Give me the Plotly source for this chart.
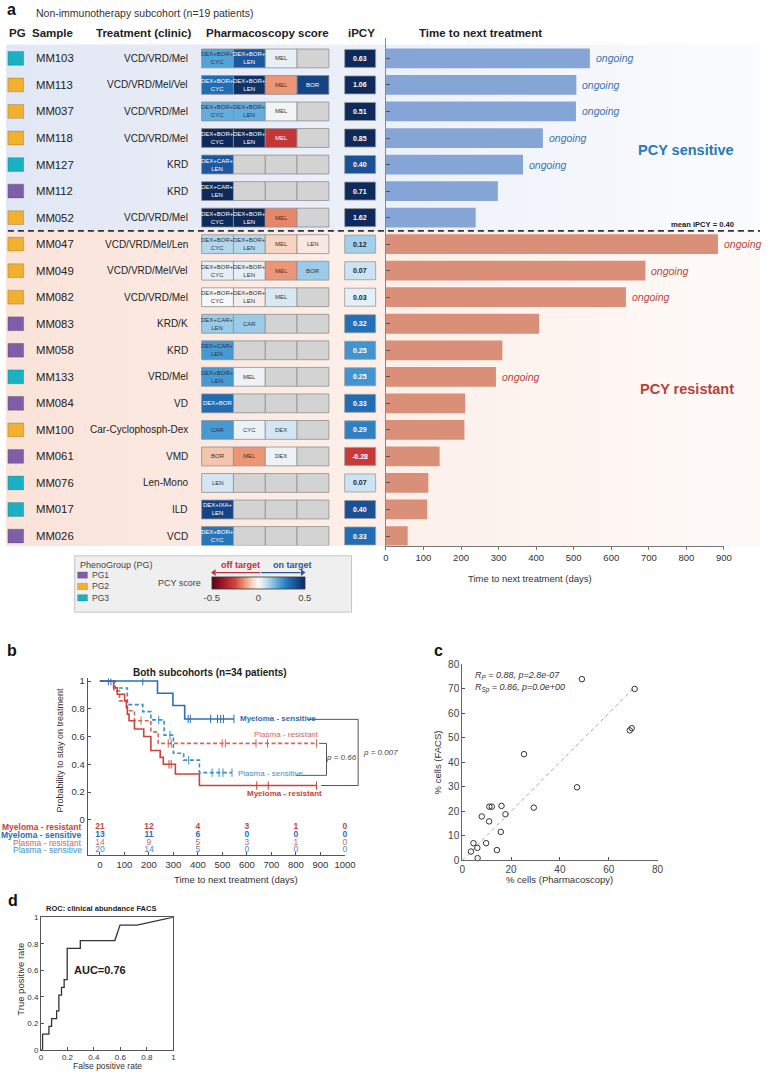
import plotly.graph_objects as go
from plotly.colors import sample_colorscale

W, H = 771, 1077
FONT = "Liberation Sans, Arial, Helvetica, sans-serif"

# ---------------- Panel a data ----------------
SAMPLES = ["MM103", "MM113", "MM037", "MM118", "MM127", "MM112", "MM052",
           "MM047", "MM049", "MM082", "MM083", "MM058", "MM133", "MM084",
           "MM100", "MM061", "MM076", "MM017", "MM026"]
PHENOGROUP = [3, 2, 2, 2, 3, 1, 2, 2, 2, 2, 1, 1, 3, 1, 2, 1, 3, 3, 1]
TREATMENT = ["VCD/VRD/Mel", "VCD/VRD/Mel/Vel", "VCD/VRD/Mel", "VCD/VRD/Mel",
             "KRD", "KRD", "VCD/VRD/Mel", "VCD/VRD/Mel/Len", "VCD/VRD/Mel/Vel",
             "VCD/VRD/Mel", "KRD/K", "KRD", "VRD/Mel", "VD",
             "Car-Cyclophosph-Dex", "VMD", "Len-Mono", "ILD", "VCD"]
DBC = "DEX+BOR+<br>CYC"
DBL = "DEX+BOR+<br>LEN"
DCL = "DEX+CAR+<br>LEN"
DRUG_LABELS = [
    [DBC, DBL, "MEL"], [DBC, DBL, "MEL", "BOR"], [DBC, DBL, "MEL"], [DBC, DBL, "MEL"],
    [DCL], [DCL], [DBC, DBL, "MEL"],
    [DBC, DBL, "MEL", "LEN"], [DBC, DBL, "MEL", "BOR"], [DBC, DBL, "MEL"],
    [DCL, "CAR"], [DCL], [DBL, "MEL"], ["DEX+BOR"], ["CAR", "CYC", "DEX"],
    ["BOR", "MEL", "DEX"], ["LEN"], ["DEX+IXA+<br>LEN"], [DBC]]
DRUG_SCORES = [
    [0.22, 0.38, 0.03], [0.33, 0.48, -0.15, 0.43], [0.20, 0.20, 0.01], [0.50, 0.50, -0.29],
    [0.38], [0.50], [0.50, 0.50, -0.17],
    [0.10, 0.10, -0.07, -0.03], [0.03, 0.03, -0.15, 0.13], [0.00, -0.02, 0.05],
    [0.13, 0.13], [0.24], [0.24, 0.02], [0.33], [0.24, 0.02, 0.06],
    [-0.09, -0.15, 0.02], [0.06], [0.43], [0.31]]
IPCY = [0.63, 1.06, 0.51, 0.85, 0.40, 0.71, 1.62, 0.12, 0.07, 0.03,
        0.32, 0.25, 0.25, 0.33, 0.29, -0.28, 0.07, 0.40, 0.33]
TTNT = [543, 507, 506, 418, 365, 298, 239, 884, 691, 639,
        408, 310, 293, 211, 209, 143, 113, 110, 58]
ONGOING = [True, True, True, True, True, False, False, True, True, True,
           False, False, True, False, False, False, False, False, False]
GROUP = ["sensitive"] * 7 + ["resistant"] * 12
MEAN_IPCY = 0.40
BAR_TICKS = list(range(0, 901, 100))

# ---------------- Panel b data (Kaplan-Meier) ----------------
KM_MR_T = [0, 56, 71, 101, 108, 112, 119, 141, 179, 208, 246, 259, 308, 406, 884]
KM_MR_S = [1, 0.952, 0.905, 0.857, 0.810, 0.762, 0.714, 0.655, 0.60, 0.50, 0.45, 0.40, 0.33, 0.247, 0.247]
KM_MR_CT = [282, 291, 640, 687, 884]
KM_MR_CS = [0.40, 0.40, 0.247, 0.247, 0.247]

KM_MS_T = [0, 235, 298, 346, 547]
KM_MS_S = [1, 0.912, 0.824, 0.727, 0.727]
KM_MS_CT = [35, 45, 175, 360, 369, 452, 480, 493, 504, 547]
KM_MS_CS = [1, 1, 1, 0.727, 0.727, 0.727, 0.727, 0.727, 0.727, 0.727]

KM_PR_T = [0, 57, 80, 112, 141, 208, 238, 884]
KM_PR_S = [1, 0.929, 0.857, 0.786, 0.714, 0.634, 0.551, 0.551]
KM_PR_CT = [168, 279, 291, 499, 512, 637, 684, 884]
KM_PR_CS = [0.714, 0.551, 0.551, 0.551, 0.551, 0.551, 0.551, 0.551]

KM_PS_T = [0, 62, 112, 175, 208, 262, 300, 342, 406, 539]
KM_PS_S = [1, 0.95, 0.83, 0.78, 0.72, 0.61, 0.48, 0.43, 0.34, 0.34]
KM_PS_CT = [240, 286, 362, 458, 486, 502, 539]
KM_PS_CS = [0.72, 0.61, 0.43, 0.34, 0.34, 0.34, 0.34]

RISK_T = [0, 200, 400, 600, 800, 1000]
RISK_MR = [21, 12, 4, 3, 1, 0]
RISK_MS = [13, 11, 6, 0, 0, 0]
RISK_PR = [14, 9, 5, 3, 1, 0]
RISK_PS = [20, 14, 5, 0, 0, 0]
KM_TICKS = list(range(0, 1001, 100))

# ---------------- Panel c data ----------------
PCY_PCT = [49.0, 70.6, 68.6, 69.4, 25.3, 47.0, 29.3, 16.1, 11.1, 12.1,
           8.0, 17.7, 11.0, 15.8, 4.6, 9.8, 6.2, 3.6, 14.2, 6.3]
FACS_PCT = [73.9, 69.9, 53.0, 53.9, 43.3, 29.8, 21.5, 22.2, 21.9, 21.9,
            17.9, 18.8, 15.9, 11.6, 7.0, 7.0, 5.1, 3.6, 4.2, 0.9]
FIT_LINE = [0, 70.5]

# ---------------- Panel d data ----------------
ROC_FPR = [0, 0.012, 0.012, 0.06, 0.06, 0.08, 0.08, 0.118, 0.118, 0.135, 0.135,
           0.155, 0.155, 0.175, 0.175, 0.198, 0.198, 0.297, 0.297, 0.558, 0.597, 0.725, 1.0]
ROC_TPR = [0, 0, 0.118, 0.118, 0.176, 0.176, 0.235, 0.235, 0.294, 0.294, 0.412,
           0.412, 0.471, 0.471, 0.529, 0.529, 0.765, 0.765, 0.824, 0.824, 0.941, 0.941, 1.0]

# ---------------- styling ----------------
PCY_CS = [[0.0, '#5e0016'], [0.12, '#9e1a2a'], [0.25, '#d3443c'], [0.35, '#eb9677'],
          [0.43, '#f7d3c2'], [0.5, '#f8f8f8'], [0.57, '#cde3f1'], [0.65, '#8cc3e4'],
          [0.73, '#4a9ed5'], [0.82, '#2271b8'], [0.91, '#184c92'], [1.0, '#0c2a5b']]
PG_COLORS = {1: '#7e5ea8', 2: '#f1b12f', 3: '#19b1c3'}
BAR_COL = {"sensitive": '#86a5d7', "resistant": '#d98f78'}
ONG_COL = {"sensitive": '#3a73b0', "resistant": '#b5473d'}
C_MS, C_PS, C_MR, C_PR = '#2b6fb3', '#3b8fcb', '#c8433a', '#d4665a'


def pcy_color(v):
    f = min(max((v + 0.5) / 1.0, 0), 1)
    return sample_colorscale(PCY_CS, [f])[0]


def xp(px):
    return px / W


def yp(py):
    return 1 - py / H


ROW0, DY = 53.0, (536.0 - 53.0) / 18
TOP_PX, BOT_PX = 32.0, 545.7
R_TOP = (TOP_PX - ROW0) / DY
R_BOT = (BOT_PX - ROW0) / DY
YDOM_ROWS = [yp(BOT_PX), yp(TOP_PX)]

fig = go.Figure()
shapes = []
anns = []


def ann(px, py, text, size=10, color='#222', xanchor='center', yanchor='middle', angle=0):
    anns.append(dict(x=xp(px), y=yp(py), xref='paper', yref='paper', text=text,
                     showarrow=False, xanchor=xanchor, yanchor=yanchor, textangle=angle,
                     font=dict(size=size, color=color, family=FONT)))


# ---------------- backgrounds (canvas subplot) ----------------
fig.add_trace(go.Scatter(x=[3, 771, 771, 3, 3], y=[39, 39, 227.4, 227.4, 39], mode='none',
                         fill='toself', hoverinfo='skip', xaxis='x', yaxis='y',
                         fillgradient=dict(type='horizontal',
                                           colorscale=[[0, '#e1e7f4'], [0.45, '#ebeff8'], [1, '#fbfcfe']])))
fig.add_trace(go.Scatter(x=[3, 771, 771, 3, 3], y=[227.4, 227.4, 546, 546, 227.4], mode='none',
                         fill='toself', hoverinfo='skip', xaxis='x', yaxis='y',
                         fillgradient=dict(type='horizontal',
                                           colorscale=[[0, '#fae3d9'], [0.45, '#fceee8'], [1, '#fefaf8']])))
# colorbar for legend
fig.add_trace(go.Scatter(x=[-100], y=[-100], mode='markers', hoverinfo='skip', xaxis='x', yaxis='y',
                         marker=dict(color=[0], cmin=-0.5, cmax=0.5, colorscale=PCY_CS, opacity=0,
                                     showscale=True,
                                     colorbar=dict(orientation='h', x=xp(260), xanchor='center',
                                                   y=yp(577.7), yanchor='top', len=94.6 / W,
                                                   lenmode='fraction', thickness=12.3,
                                                   thicknessmode='pixels', outlinewidth=0.8,
                                                   outlinecolor='#333', tickvals=[-0.5, 0, 0.5],
                                                   ticktext=['-0.5', '0', '0.5'], ticks='',
                                                   tickfont=dict(size=9.5, color='#444', family=FONT),
                                                   xpad=0, ypad=0, borderwidth=0))))
# legend arrows heads (canvas pixel coords)
fig.add_trace(go.Scatter(x=[215], y=[573], mode='markers', hoverinfo='skip', xaxis='x', yaxis='y',
                         marker=dict(symbol='triangle-left', size=6, color='#b8333a')))
fig.add_trace(go.Scatter(x=[305], y=[573], mode='markers', hoverinfo='skip', xaxis='x', yaxis='y',
                         marker=dict(symbol='triangle-right', size=6, color='#2f5597')))

# ---------------- table subplot (x2/y2) ----------------
fig.add_trace(go.Scatter(x=[0], y=[0], mode='markers', marker=dict(opacity=0), hoverinfo='skip',
                         xaxis='x2', yaxis='y2'))
CELL_X0, CELL_W = 202.3, 32.4
for i, s in enumerate(SAMPLES):
    shapes.append(dict(type='rect', xref='x2', yref='y2', x0=5, x1=21, y0=i - 0.26, y1=i + 0.26,
                       fillcolor=PG_COLORS[PHENOGROUP[i]], line=dict(color='rgba(0,0,0,0.3)', width=0.6)))
    anns.append(dict(x=32, y=i, xref='x2', yref='y2', text=s, showarrow=False, xanchor='left',
                     yanchor='middle', font=dict(size=11.3, color='#222', family=FONT)))
    anns.append(dict(x=190, y=i, xref='x2', yref='y2', text=TREATMENT[i], showarrow=False,
                     xanchor='right', yanchor='middle', font=dict(size=10, color='#222', family=FONT)))
    for j in range(4):
        x0 = CELL_X0 + j * CELL_W
        if j < len(DRUG_SCORES[i]):
            v = DRUG_SCORES[i][j]
            fc = pcy_color(v)
            tc = 'white' if (v >= 0.3 or v <= -0.25) else '#333'
            anns.append(dict(x=x0 + CELL_W / 2, y=i, xref='x2', yref='y2', text=DRUG_LABELS[i][j],
                             showarrow=False, xanchor='center', yanchor='middle',
                             font=dict(size=6, color=tc, family=FONT)))
        else:
            fc = '#d3d3d3'
        shapes.append(dict(type='rect', xref='x2', yref='y2', x0=x0, x1=x0 + CELL_W,
                           y0=i - 0.355, y1=i + 0.355, fillcolor=fc, layer='below',
                           line=dict(color='#8f8f8f', width=0.8)))
    v = IPCY[i]
    shapes.append(dict(type='rect', xref='x2', yref='y2', x0=348, x1=379.5, y0=i - 0.34, y1=i + 0.34,
                       fillcolor=pcy_color(v), layer='below', line=dict(color='#9a9a9a', width=0.8)))
    tc = 'white' if abs(v) >= 0.2 else '#222'
    anns.append(dict(x=363.7, y=i, xref='x2', yref='y2', text='<b>%.2f</b>' % v, showarrow=False,
                     xanchor='center', yanchor='middle', font=dict(size=7, color=tc, family=FONT)))

# ---------------- bars (x3/y3) ----------------
fig.add_trace(go.Bar(x=TTNT, y=list(range(len(SAMPLES))), orientation='h', width=0.745,
                     marker=dict(color=[BAR_COL[g] for g in GROUP], line=dict(width=0)),
                     xaxis='x3', yaxis='y3', hoverinfo='skip'))
for i, t in enumerate(TTNT):
    if ONGOING[i]:
        anns.append(dict(x=t, y=i, xref='x3', yref='y3', text='<i>ongoing</i>', showarrow=False,
                         xanchor='left', yanchor='middle', xshift=4,
                         font=dict(size=10.5, color=ONG_COL[GROUP[i]], family=FONT)))


# ---------------- KM (x4/y4) ----------------
def km(t, s, ct, cs, color, dash):
    fig.add_trace(go.Scatter(x=t, y=s, mode='lines', line=dict(color=color, width=1.6, dash=dash, shape='hv'),
                             xaxis='x4', yaxis='y4', hoverinfo='skip'))
    fig.add_trace(go.Scatter(x=ct, y=cs, mode='markers', marker=dict(symbol='line-ns', size=6,
                             line=dict(color=color, width=1)), xaxis='x4', yaxis='y4', hoverinfo='skip'))


km(KM_PR_T, KM_PR_S, KM_PR_CT, KM_PR_CS, C_PR, '4px,2.5px')
km(KM_PS_T, KM_PS_S, KM_PS_CT, KM_PS_CS, C_PS, '4px,2.5px')
km(KM_MR_T, KM_MR_S, KM_MR_CT, KM_MR_CS, C_MR, 'solid')
km(KM_MS_T, KM_MS_S, KM_MS_CT, KM_MS_CS, C_MS, 'solid')

risk_rows = [(RISK_MR, C_MR, True, -0.05, "Myeloma - resistant"),
             (RISK_MS, C_MS, True, -0.109, "Myeloma - sensitive"),
             (RISK_PR, C_PR, False, -0.164, "Plasma - resistant"),
             (RISK_PS, C_PS, False, -0.219, "Plasma - sensitive")]
for vals, col, bold, yv, lab in risk_rows:
    txt = [('<b>%d</b>' % v) if bold else str(v) for v in vals]
    fig.add_trace(go.Scatter(x=RISK_T, y=[yv] * len(RISK_T), mode='text', text=txt, cliponaxis=False,
                             textfont=dict(size=8.5, color=col, family=FONT), textposition='middle center',
                             xaxis='x4', yaxis='y4', hoverinfo='skip'))
    anns.append(dict(x=xp(81), y=yv, xref='paper', yref='y4', text=('<b>%s</b>' % lab) if bold else lab,
                     showarrow=False, xanchor='right', yanchor='middle', borderpad=0,
                     font=dict(size=8.5, color=col, family=FONT)))

# ---------------- scatter c (x5/y5) ----------------
fig.add_trace(go.Scatter(x=FIT_LINE, y=FIT_LINE, mode='lines', line=dict(color='#aaaaaa', width=1, dash='4px,3px'),
                         xaxis='x5', yaxis='y5', hoverinfo='skip'))
fig.add_trace(go.Scatter(x=PCY_PCT, y=FACS_PCT, mode='markers',
                         marker=dict(symbol='circle-open', size=5.5, color='#333', line=dict(width=1)),
                         xaxis='x5', yaxis='y5', hoverinfo='skip', cliponaxis=False))

# ---------------- ROC d (x6/y6) ----------------
fig.add_trace(go.Scatter(x=ROC_FPR, y=ROC_TPR, mode='lines', line=dict(color='#333', width=1.3),
                         xaxis='x6', yaxis='y6', hoverinfo='skip'))

# ---------------- text: panel a ----------------
ann(9, 4, '<b>a</b>', 16, '#111')
ann(32, 7, 'Non-immunotherapy subcohort (n=19 patients)', 10.5, '#333', 'left')
for px, t in [(15, 'PG'), (50, 'Sample'), (143.5, 'Treatment (clinic)'),
              (269, 'Pharmacoscopy score'), (365.5, 'iPCY')]:
    ann(px, 27, '<b>%s</b>' % t, 11.5, '#222')
ann(422, 27, '<b>Time to next treatment</b>', 11.5, '#222', 'left')
ann(747, 145.5, '<b>PCY sensitive</b>', 14.5, '#2a78b6', 'right')
ann(747, 387, '<b>PCY resistant</b>', 14.5, '#b8413a', 'right')
ann(747, 221, '<b>mean iPCY = %.2f</b>' % MEAN_IPCY, 7.6, '#222', 'right')
ann(536.5, 579, 'Time to next treatment (days)', 9.5, '#333')
shapes.append(dict(type='line', xref='paper', yref='paper', x0=xp(5), x1=xp(771), y0=yp(227.4), y1=yp(227.4),
                   line=dict(color='#333', width=1.6, dash='6px,4px')))

# legend box
shapes.append(dict(type='rect', xref='paper', yref='paper', x0=xp(73), x1=xp(355), y0=yp(613), y1=yp(556),
                   fillcolor='#efefef', line=dict(color='#c4c4c4', width=1), layer='below'))
ann(76, 565, 'PhenoGroup (PG)', 9, '#444', 'left')
for k, py in [(1, 575.5), (2, 587), (3, 598.5)]:
    shapes.append(dict(type='rect', xref='paper', yref='paper', x0=xp(76), x1=xp(86), y0=yp(py + 3.2),
                       y1=yp(py - 3.2), fillcolor=PG_COLORS[k], line=dict(color='rgba(0,0,0,0.3)', width=0.5)))
    ann(88.5, py, 'PG%d' % k, 8.5, '#444', 'left')
ann(180, 583, 'PCY score', 9, '#444')
ann(241.5, 565.5, '<b>off target</b>', 9, '#b8333a')
ann(294.5, 565.5, '<b>on target</b>', 9, '#2f5597')
shapes.append(dict(type='line', xref='paper', yref='paper', x0=xp(217), x1=xp(262), y0=yp(573), y1=yp(573),
                   line=dict(color='#b8333a', width=1.2)))
shapes.append(dict(type='line', xref='paper', yref='paper', x0=xp(263), x1=xp(303), y0=yp(573), y1=yp(573),
                   line=dict(color='#2f5597', width=1.2)))

# ---------------- text: panel b ----------------
ann(9, 652, '<b>b</b>', 16, '#111')
ann(211, 674, '<b>Both subcohorts (n=34 patients)</b>', 10, '#222')
ann(58, 752, 'Probability to stay on treatment', 9, '#333', angle=-90)
ann(237, 883, 'Time to next treatment (days)', 9.5, '#333')
ann(239, 721, '<b>Myeloma - sensitive</b>', 8, C_MS, 'left')
ann(323.5, 737, 'Plasma - resistant', 8, C_PR, 'right')
ann(237.5, 776, 'Plasma - sensitive', 8, C_PS, 'left')
ann(327, 796, '<b>Myeloma - resistant</b>', 8, C_MR, 'right')
ann(345, 760, '<i>p = 0.66</i>', 8, '#444', 'center')
ann(365, 755, '<i>p = 0.007</i>', 8, '#444', 'left')
BR = '#555'
for (x0, y0, x1, y1) in [(310, 721.4, 361.7, 721.4), (361.7, 721.4, 361.7, 788.3), (324, 788.3, 361.7, 788.3),
                         (322, 745.7, 329.5, 745.7), (329.5, 745.7, 329.5, 778), (298, 778, 329.5, 778)]:
    shapes.append(dict(type='line', xref='paper', yref='paper', x0=xp(x0), x1=xp(x1), y0=yp(y0), y1=yp(y1),
                       line=dict(color=BR, width=1)))

# ---------------- text: panel c ----------------
ann(444, 652, '<b>c</b>', 16, '#111')
ann(479, 677.5, '<i>R<sub>P</sub> = 0.88, p=2.8e-07</i>', 9, '#333', 'left')
ann(479, 690, '<i>R<sub>Sp</sub> = 0.86, p=0.0e+00</i>', 9, '#333', 'left')
ann(443, 765, '% cells (FACS)', 9.5, '#333', angle=-90)
ann(566.7, 883, '% cells (Pharmacoscopy)', 9.5, '#333')

# ---------------- text: panel d ----------------
ann(10, 905, '<b>d</b>', 16, '#111')
ann(100, 913, '<b>ROC: clinical abundance FACS</b>', 7.5, '#222')
ann(99, 975, '<b>AUC=0.76</b>', 11, '#222')
ann(17, 984, 'True positive rate', 9.5, '#333', angle=-90)
anns.append(dict(x=xp(106), y=yp(1071.5), xref='paper', yref='paper', text='False positive rate',
                 showarrow=False, xanchor='center', yanchor='middle', borderpad=0,
                 font=dict(size=8.5, color='#333', family=FONT)))

TF = dict(size=9.5, color='#333', family=FONT)
common = dict(showgrid=False, zeroline=False, showline=True, linecolor='#555', linewidth=1,
              ticks='inside', ticklen=3, tickcolor='#555', tickfont=TF, fixedrange=True)

fig.update_layout(
    width=W, height=H, margin=dict(l=0, r=0, t=0, b=0), paper_bgcolor='white',
    plot_bgcolor='rgba(0,0,0,0)', showlegend=False, font=dict(family=FONT, color='#222'),
    xaxis=dict(domain=[0, 1], range=[0, W], visible=False, fixedrange=True),
    yaxis=dict(domain=[0, 1], range=[H, 0], visible=False, fixedrange=True),
    xaxis2=dict(domain=[0, 385 / W], range=[0, 385], visible=False, anchor='y2'),
    yaxis2=dict(domain=YDOM_ROWS, range=[R_BOT, R_TOP], visible=False, anchor='x2'),
    xaxis3=dict(domain=[xp(390), xp(734.3)], range=[0, 900], anchor='y3', tickvals=BAR_TICKS,
                **{**common, 'ticks': 'outside', 'linecolor': '#777', 'tickcolor': '#777'}),
    yaxis3=dict(domain=YDOM_ROWS, range=[R_BOT, R_TOP], anchor='x3', tickvals=list(range(len(SAMPLES))),
                showticklabels=False, **{**common, 'ticklen': 4, 'linecolor': '#888'}),
    xaxis4=dict(domain=[xp(86.2), xp(348.3)], range=[-50, 1000], anchor='y4', tickvals=KM_TICKS, **common),
    yaxis4=dict(domain=[yp(859), yp(680)], range=[-0.2566, 1.019], anchor='x4',
                tickvals=[0, 0.2, 0.4, 0.6, 0.8, 1], ticktext=['0', '0.2', '0.4', '0.6', '0.8', '1'], **common),
    xaxis5=dict(domain=[xp(467.7), xp(666.7)], range=[0, 80], anchor='y5', tickvals=[0, 20, 40, 60, 80],
                **{**common, 'tickfont': dict(size=10, color='#444', family=FONT), 'linecolor': '#666'}),
    yaxis5=dict(domain=[yp(864), yp(665.6)], range=[0, 80], anchor='x5', tickvals=list(range(0, 81, 10)),
                **{**common, 'tickfont': dict(size=10, color='#444', family=FONT), 'linecolor': '#666'}),
    xaxis6=dict(domain=[xp(38.7), xp(173.5)], range=[0, 1], anchor='y6', tickvals=[0, 0.2, 0.4, 0.6, 0.8, 1],
                ticktext=['0', '0.2', '0.4', '0.6', '0.8', '1'], mirror=True,
                **{**common, 'tickfont': dict(size=8, color='#333', family=FONT)}),
    yaxis6=dict(domain=[yp(1055.5), yp(921.5)], range=[0, 1], anchor='x6', tickvals=[0, 0.2, 0.4, 0.6, 0.8, 1],
                ticktext=['0', '0.2', '0.4', '0.6', '0.8', '1'], mirror=True,
                **{**common, 'tickfont': dict(size=8, color='#333', family=FONT)}),
    shapes=shapes, annotations=anns,
)

fig.write_html("out.html", config={'displayModeBar': False},
               post_script="document.body.style.margin='0px';")
